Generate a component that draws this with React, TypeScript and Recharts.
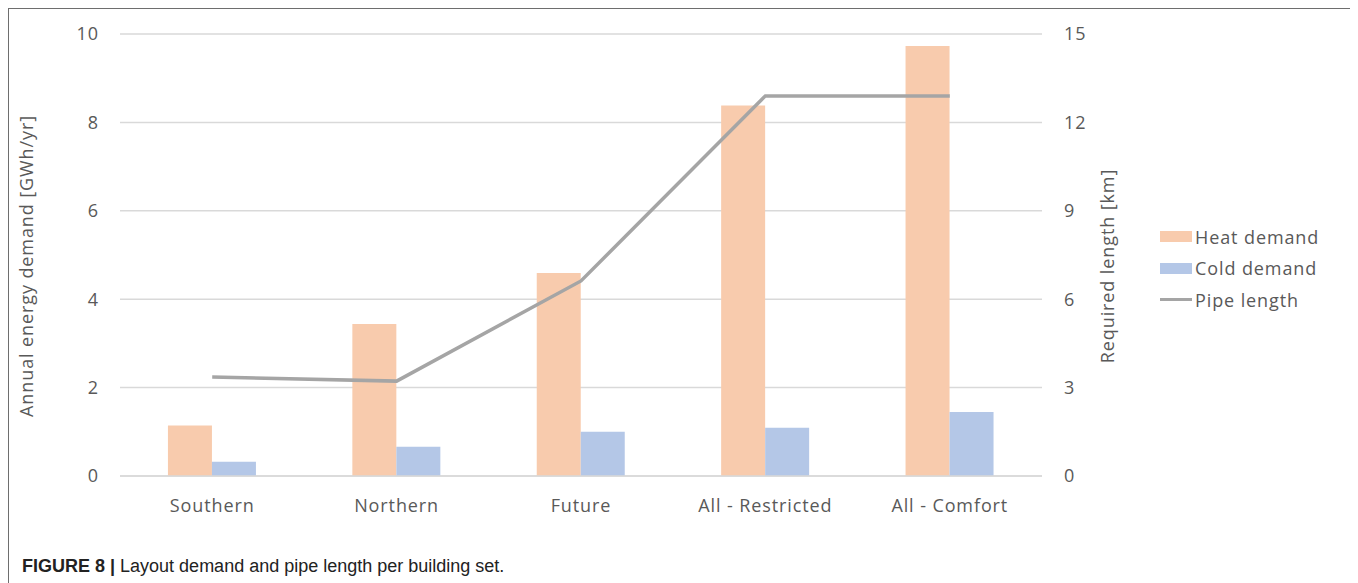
import { ComposedChart, Bar, Line, XAxis, YAxis, CartesianGrid } from 'recharts';

const categories = ['Southern', 'Northern', 'Future', 'All - Restricted', 'All - Comfort'];
const heatDemand = [1.14, 3.44, 4.59, 8.38, 9.73];
const coldDemand = [0.32, 0.66, 1.0, 1.09, 1.45];
const pipeLength = [3.36, 3.22, 6.62, 12.9, 12.9];
const leftTicks = [0, 2, 4, 6, 8, 10];
const rightTicks = [0, 3, 6, 9, 12, 15];

const data = categories.map((name, i) => ({
  name,
  heat: heatDemand[i],
  cold: coldDemand[i],
  pipe: pipeLength[i],
}));

const FONT = '"Open Sans", sans-serif';
const TXT = '#595959';
const tickStyle = { fill: TXT, fontSize: 18, fontFamily: FONT, letterSpacing: 0.9 };

const legendItems = [
  { label: 'Heat demand', color: '#f8cbad', kind: 'box' },
  { label: 'Cold demand', color: '#b4c7e7', kind: 'box' },
  { label: 'Pipe length', color: '#a5a5a5', kind: 'line' },
];

function LegendBox() {
  return (
    <div style={{ position: 'absolute', left: 1151, top: 212, fontFamily: FONT, fontSize: 18, color: TXT, letterSpacing: 0.9 }}>
      {legendItems.map((it) => (
        <div key={it.label} style={{ display: 'flex', alignItems: 'center', height: 31.5 }}>
          <div style={{ width: 32, height: it.kind === 'box' ? 11 : 3, background: it.color, marginRight: 3 }} />
          <span>{it.label}</span>
        </div>
      ))}
    </div>
  );
}

function SideLabel(props: any, text: string, side: 'left' | 'right') {
  const vb = props.viewBox;
  const x = side === 'left' ? vb.x - 14 : vb.x + 65;
  const y = vb.y + vb.height / 2 + 11;
  return (
    <text x={x} y={y} transform={`rotate(-90, ${x}, ${y})`} textAnchor="middle" dominantBaseline="central"
      fill={TXT} fontSize={18} fontFamily={FONT} style={{ letterSpacing: 0.9 }}>
      {text}
    </text>
  );
}

export default function App() {
  return (
    <div style={{ position: 'relative', width: 1346, height: 590, border: '1px solid #6e6e6e', background: '#fff' }}>
      <ComposedChart width={1346} height={530} data={data} barCategoryGap="26%" barGap={0}
        margin={{ top: 25, right: 253, left: 31, bottom: 33 }}>
        <CartesianGrid horizontal vertical={false} stroke="#d9d9d9" strokeWidth={1.5} yAxisId="left" />
        <XAxis dataKey="name" tick={tickStyle} tickLine={false} tickSize={0} tickMargin={23}
          axisLine={{ stroke: '#d9d9d9', strokeWidth: 1.5 }} height={30} />
        <YAxis yAxisId="left" domain={[0, 10]} ticks={leftTicks} width={80} tick={tickStyle}
          axisLine={false} tickLine={false} tickSize={0} tickMargin={21}
          label={{ content: (p: any) => SideLabel(p, 'Annual energy demand [GWh/yr]', 'left') }} />
        <YAxis yAxisId="right" orientation="right" domain={[0, 15]} ticks={rightTicks} width={60} tick={tickStyle}
          axisLine={false} tickLine={false} tickSize={0} tickMargin={22}
          label={{ content: (p: any) => SideLabel(p, 'Required length [km]', 'right') }} />
        <Bar yAxisId="left" dataKey="heat" fill="#f8cbad" isAnimationActive={false} />
        <Bar yAxisId="left" dataKey="cold" fill="#b4c7e7" isAnimationActive={false} />
        <Line yAxisId="right" type="linear" dataKey="pipe" stroke="#a5a5a5" strokeWidth={3.5}
          dot={false} activeDot={false} isAnimationActive={false} />
      </ComposedChart>
      <LegendBox />
      <div style={{ position: 'absolute', left: 13, top: 547, fontFamily: '"Liberation Sans", Arial, sans-serif',
        fontSize: 18, color: '#222' }}>
        <b>FIGURE 8 |</b> Layout demand and pipe length per building set.
      </div>
    </div>
  );
}
